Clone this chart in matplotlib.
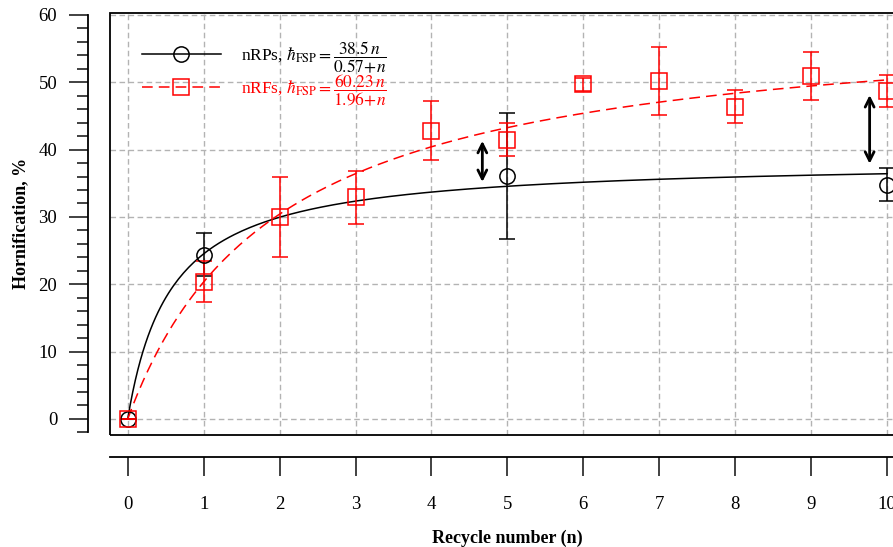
import numpy as np
import matplotlib.pyplot as plt
from matplotlib.patches import Rectangle

# дані
cycles = [0, 1, 5, 10]
nrp_vals = [0, 24.4, 36.1, 34.8]
nrp_err = [0, 3.2, 9.3, 2.4]

cycles_rf = [0, 1, 2, 3, 4, 5, 6, 7, 8, 9, 10]
nrf_vals = [0, 20.4, 30.0, 32.9, 42.8, 41.5, 49.7, 50.2, 46.4, 50.9, 48.7]
nrf_err = [0, 3.1, 6.0, 3.9, 4.4, 2.4, 1.0, 5.1, 2.5, 3.6, 2.4]

# параметри апроксимації (з легенди)
nrp_a, nrp_b = 38.5, 0.57
nrf_a, nrf_b = 60.23, 1.96

# стрілки
arrow_x = [4.67, 9.77]
arrow_top = [41.3, 48.1]
arrow_bottom = [35.2, 37.9]

plt.rcParams['font.family'] = ['Liberation Serif', 'DejaVu Serif']
plt.rcParams['mathtext.fontset'] = 'stix'

fig = plt.figure(figsize=(8.93, 5.47), dpi=100)
ax = fig.add_axes([0.1232, 0.2048, 0.890, 0.772])

n = np.linspace(0, 10, 300)
ax.plot(n, nrp_a * n / (nrp_b + n), color='black', lw=1.1, zorder=3)
ax.plot(n, nrf_a * n / (nrf_b + n), color='red', lw=1.1, ls=(0, (7, 4)), zorder=3)

ax.errorbar(cycles, nrp_vals, yerr=nrp_err, fmt='o', color='black', mfc='none',
            ms=11, mew=1.1, elinewidth=1.1, capsize=6, capthick=1.1, zorder=4)
ax.errorbar(cycles_rf, nrf_vals, yerr=nrf_err, fmt='s', color='red', mfc='none',
            ms=11, mew=1.1, elinewidth=1.1, capsize=6, capthick=1.1, zorder=4)

# легенда з лініями та маркерами
h1, = ax.plot([], [], color='black', lw=1.1, marker='o', mfc='none', ms=11, mew=1.1)
h2, = ax.plot([], [], color='red', lw=1.1, ls=(0, (7, 4)), marker='s', mfc='none', ms=11, mew=1.1)
lab1 = r'nRPs, $\hbar_{\rm FSP}=\dfrac{38.5\,n}{0.57\!+\!n}$'
lab2 = r'nRFs, $\hbar_{\rm FSP}=\dfrac{60.23\,n}{1.96\!+\!n}$'
leg = ax.legend([h1, h2], [lab1, lab2], loc='upper left', frameon=False, fontsize=12.5,
                handlelength=4.6, handletextpad=1.15, labelspacing=-0.15,
                bbox_to_anchor=(0.02, 0.975))
for txt, c in zip(leg.get_texts(), ['black', 'red']):
    txt.set_color(c)

for x, y0, y1 in zip(arrow_x, arrow_bottom, arrow_top):
    ax.annotate('', xy=(x, y0), xytext=(x, y1),
                arrowprops=dict(arrowstyle='<->', lw=2, color='black', mutation_scale=16,
                                shrinkA=0, shrinkB=0), zorder=5)

ax.set_xlim(-0.233, 10.233)
ax.set_ylim(-2.38, 60.34)

ax.set_xticks(range(0, 11))
ax.set_yticks(range(0, 61, 10))
ax.set_yticks(range(-2, 61, 2), minor=True)
ax.grid(True, which='major', color='#b3b3b3', ls=(0, (4, 2.5)), lw=1.0)

for s in ['left', 'bottom']:
    ax.spines[s].set_position(('outward', 16))
    ax.spines[s].set_linewidth(1.3)
ax.spines['left'].set_bounds(-2, 60)
ax.spines['top'].set_visible(False)
ax.spines['right'].set_visible(False)
ax.add_patch(Rectangle((0, 0), 1, 1, transform=ax.transAxes, fill=False,
                       lw=1.3, ec='black', clip_on=False, zorder=6))

ax.tick_params(axis='both', which='major', direction='out', length=14, width=1.3,
               labelsize=13.5, color='#333333')
ax.tick_params(axis='x', pad=14)
ax.tick_params(axis='y', pad=8)
ax.tick_params(axis='y', which='minor', direction='out', length=8, width=1.3, color='#333333')

ax.set_xlabel('Recycle number (n)', fontsize=13, fontweight='bold', labelpad=12)
ax.set_ylabel('Hornification, %', fontsize=13, fontweight='bold', labelpad=7)

fig.savefig('out.png', dpi=100)
